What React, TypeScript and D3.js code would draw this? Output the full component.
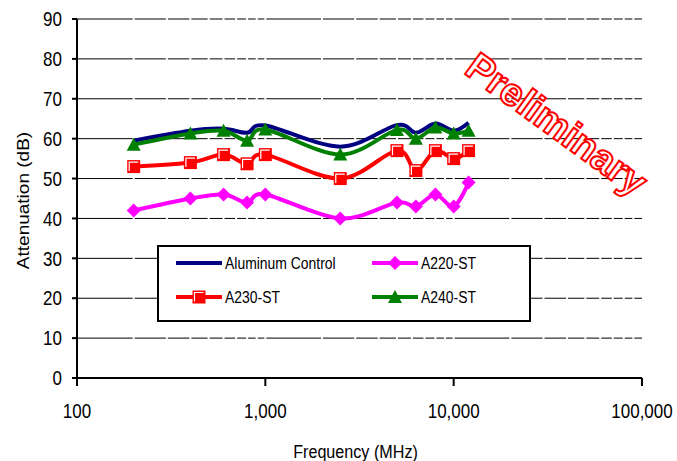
import React from "react";
import * as d3 from "d3";

const freqs = [200, 400, 600, 800, 1000, 2500, 5000, 6300, 8000, 10000, 12000];
const aluminumControl = [59.5, 62, 62.5, 61.5, 63.3, 58, 63.4, 61.5, 63.8, 62, 64];
const a220 = [42, 45, 46, 44, 46, 40, 44, 43, 46, 43, 49];
const a230 = [53, 54, 56, 53.7, 56, 50, 57, 52, 57, 55, 57];
const a240 = [58.5, 61.3, 62, 59.5, 62.3, 56, 62.2, 60, 62.8, 61.3, 62];

const seriesNames = ["Aluminum Control", "A220-ST", "A230-ST", "A240-ST"];
const yTicks = [0, 10, 20, 30, 40, 50, 60, 70, 80, 90];
const xTicks = [100, 1000, 10000, 100000];
const xTickLabels = ["100", "1,000", "10,000", "100,000"];
const xTitle = "Frequency (MHz)";
const yTitle = "Attenuation (dB)";
const watermark = "Preliminary";

const W = 677, H = 461;
const L = 77, R = 642, T = 19, B = 378;
const FONT = "'Liberation Sans', Arial, sans-serif";
const SX = 0.85;

type MarkerKind = "none" | "diamond" | "square" | "triangle";
const series: { name: string; values: number[]; color: string; marker: MarkerKind }[] = [
  { name: seriesNames[0], values: aluminumControl, color: "#000080", marker: "none" },
  { name: seriesNames[1], values: a220, color: "#FF00FF", marker: "diamond" },
  { name: seriesNames[2], values: a230, color: "#FF0000", marker: "square" },
  { name: seriesNames[3], values: a240, color: "#008000", marker: "triangle" },
];

function Marker({ kind, x, y, color }: { kind: MarkerKind; x: number; y: number; color: string }) {
  if (kind === "diamond") {
    const s = 7;
    return <path d={`M${x},${y - s}L${x + s},${y}L${x},${y + s}L${x - s},${y}Z`} fill={color} />;
  }
  if (kind === "square") {
    const s = 6.5;
    return (
      <g>
        <rect x={x - s} y={y - s} width={2 * s} height={2 * s} fill={color} />
        <path d={`M${x - s + 2},${y + s - 2}V${y - s + 2}H${x + s - 2}`} fill="none" stroke="#fff" strokeWidth={1.2} />
      </g>
    );
  }
  if (kind === "triangle") {
    const s = 7;
    return <path d={`M${x},${y - s}L${x + s},${y + s - 1}L${x - s},${y + s - 1}Z`} fill={color} />;
  }
  return null;
}

export default function App() {
  const x = d3.scaleLog().domain([100, 100000]).range([L, R]);
  const y = d3.scaleLinear().domain([0, 90]).range([B, T]);
  const line = d3
    .line<number>()
    .x((_, i) => x(freqs[i]))
    .y((d) => y(d))
    .curve(d3.curveCatmullRom.alpha(0));

  // minor log positions -> small gaps in gridlines
  const minors: number[] = [];
  for (let dec = 100; dec < 100000; dec *= 10) {
    for (let k = 2; k <= 9; k++) minors.push(x(dec * k));
  }
  minors.push(x(1000), x(10000));
  minors.sort((a, b) => a - b);
  const segs: [number, number][] = [];
  let start = L;
  for (const m of minors) {
    segs.push([start, m - 1]);
    start = m + 1;
  }
  segs.push([start, R]);

  const legendX = 158, legendY = 246, legendW = 372, legendH = 75;
  const legendItems = [
    { s: series[0], lx: 176, ly: 263 },
    { s: series[1], lx: 372, ly: 263 },
    { s: series[2], lx: 176, ly: 297 },
    { s: series[3], lx: 372, ly: 297 },
  ];

  return (
    <svg width={W} height={H} style={{ position: "absolute", left: 0, top: 0, background: "#fff" }} fontFamily={FONT}>
      <rect width={W} height={H} fill="#fff" />
      {/* gridlines */}
      {yTicks.filter((t) => t > 0).map((t) => (
        <g key={t}>
          {segs.map(([a, b], i) => (
            <line key={i} x1={a} x2={b} y1={y(t)} y2={y(t)} stroke="#000" strokeWidth={1} />
          ))}
        </g>
      ))}
      {/* axes */}
      <line x1={L} x2={L} y1={T} y2={B + 8} stroke="#000" strokeWidth={2} />
      <line x1={L - 1} x2={R} y1={B} y2={B} stroke="#000" strokeWidth={2} />
      {yTicks.map((t) => (
        <g key={t}>
          <line x1={L - 5} x2={L} y1={y(t)} y2={y(t)} stroke="#000" strokeWidth={2} />
          <text transform={`translate(62,${y(t)}) scale(${SX},1)`} textAnchor="end" dy="0.36em" fontSize={20}>
            {t}
          </text>
        </g>
      ))}
      {xTicks.map((t, i) => (
        <g key={t}>
          <line x1={x(t)} x2={x(t)} y1={B} y2={B + 8} stroke="#000" strokeWidth={2} />
          <text transform={`translate(${x(t)},418) scale(${SX},1)`} textAnchor="middle" fontSize={20}>
            {xTickLabels[i]}
          </text>
        </g>
      ))}
      <text transform={`translate(${(L + R) / 2 - 4},458) scale(${SX},1)`} textAnchor="middle" fontSize={19}>
        {xTitle}
      </text>
      <text transform={`translate(29,${(T + B) / 2 + 2}) scale(${SX},1) rotate(-90)`} textAnchor="middle" fontSize={19}>
        {yTitle}
      </text>

      {/* series */}
      {series.map((s) => (
        <g key={s.name}>
          <path d={line(s.values) || ""} fill="none" stroke={s.color} strokeWidth={4} strokeLinejoin="round" />
          {s.values.map((v, i) => (
            <Marker key={i} kind={s.marker} x={x(freqs[i])} y={y(v)} color={s.color} />
          ))}
        </g>
      ))}

      {/* legend */}
      <rect x={legendX} y={legendY} width={legendW} height={legendH} fill="#fff" stroke="#000" strokeWidth={2} />
      {legendItems.map(({ s, lx, ly }) => (
        <g key={s.name}>
          <line x1={lx} x2={lx + 46} y1={ly} y2={ly} stroke={s.color} strokeWidth={4} />
          <Marker kind={s.marker} x={lx + 23} y={ly} color={s.color} />
          <text transform={`translate(${lx + 49},${ly}) scale(0.82,1)`} dy="0.36em" fontSize={17}>
            {s.name}
          </text>
        </g>
      ))}

      {/* watermark */}
      <text
        transform="translate(557,124) rotate(36)"
        textAnchor="middle"
        dy="0.35em"
        fontSize={39}
        fontWeight="bold"
        fill="#fff"
        stroke="#FF0000"
        strokeWidth={2}
      >
        {watermark}
      </text>
    </svg>
  );
}
